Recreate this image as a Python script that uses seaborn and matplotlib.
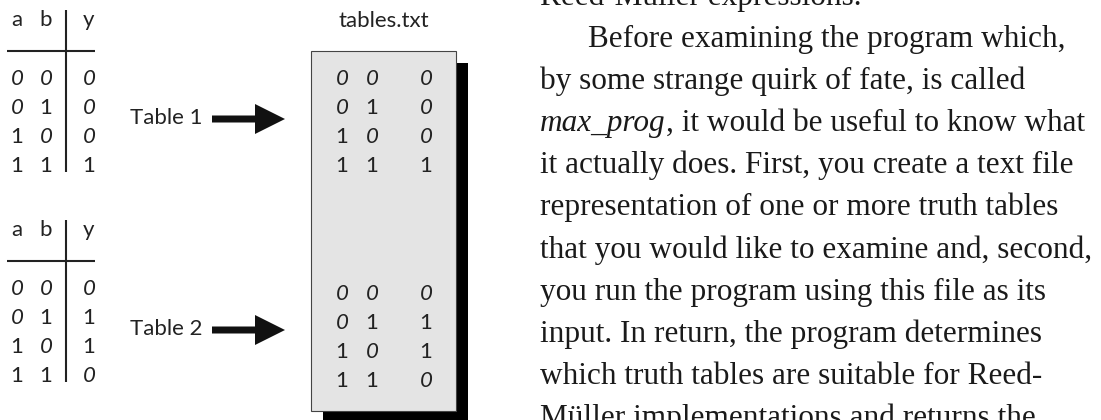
import numpy as np
import pandas as pd
import seaborn as sns
import matplotlib.pyplot as plt
from matplotlib.patches import Rectangle, FancyArrow

sns.set_theme(style="white")
plt.rcParams['font.family'] = ['Liberation Serif', 'DejaVu Serif']

# truth table data
col_a = [0, 0, 1, 1]
col_b = [0, 1, 0, 1]
table1_y = [0, 0, 0, 1]
table2_y = [0, 1, 1, 0]
headers = ["a", "b", "y"]
table_names = ["Table 1", "Table 2"]
file_name = "tables.txt"

body_lines = [
    "Reed-Müller expressions.",
    "Before examining the program which,",
    "by some strange quirk of fate, is called",
    ", it would be useful to know what",
    "it actually does. First, you create a text file",
    "representation of one or more truth tables",
    "that you would like to examine and, second,",
    "you run the program using this file as its",
    "input. In return, the program determines",
    "which truth tables are suitable for Reed-",
    "Müller implementations and returns the",
]
italic_word = "max_prog"   # goes in front of line 3

tables = [pd.DataFrame({"a": col_a, "b": col_b, "y": ys}) for ys in (table1_y, table2_y)]

HAND = ['Lato', 'DejaVu Sans']
INK = '#222222'
W, H = 1101, 420

fig = plt.figure(figsize=(W / 100, H / 100), dpi=100)
ax = fig.add_axes([0, 0, 1, 1])
ax.set_xlim(0, W)
ax.set_ylim(H, 0)
ax.axis('off')


def hand(x, y, s, italic=False, ha='center', size=16, z=3):
    # y is the visual middle of a digit / letter
    ax.text(x, y + 7, s, family=HAND, fontsize=size, fontweight='normal',
            style='italic' if italic else 'normal', ha=ha, va='baseline',
            color=INK, zorder=z)


# left truth tables
row_gap = 29
left_cols = [17, 46, 89]
for k, df in enumerate(tables):
    top = 210 * k
    for x, h in zip(left_cols, headers):
        hand(x, top + 19, h)
    ax.plot([7, 95], [top + 51, top + 51], color=INK, lw=1.5, solid_capstyle='butt')
    ax.plot([66, 66], [top + 10, top + 172], color=INK, lw=1.5, solid_capstyle='butt')
    for i, row in df.iterrows():
        for x, v in zip(left_cols, row[["a", "b", "y"]]):
            hand(x, top + 78 + i * row_gap, str(v), italic=(v == 0))

    # label and arrow
    ay = 119 + 211 * k
    hand(130, ay - 2, table_names[k], ha='left')
    ax.add_patch(FancyArrow(212, ay, 73, 0, width=7, head_width=30, head_length=30,
                            length_includes_head=True, color='#111', lw=0))

# the text file box with drop shadow
ax.add_patch(Rectangle((323, 63), 145, 360, facecolor='black', edgecolor='none', zorder=1))
ax.add_patch(Rectangle((311, 51), 145, 360, facecolor='#e4e4e4', edgecolor='#444',
                       lw=0.8, zorder=2))
hand(384, 20, file_name)

box_cols = [342, 372, 426]
for k, df in enumerate(tables):
    top = 78 + 215 * k
    for i, row in df.iterrows():
        for x, v in zip(box_cols, row[["a", "b", "y"]]):
            hand(x, top + i * row_gap, str(v), italic=(v == 0))

# body text, sized so the widest line spans the measured width
renderer = fig.canvas.get_renderer()
probe = ax.text(0, 0, body_lines[6], fontsize=20)
pw = probe.get_window_extent(renderer).width
probe.remove()
fs = 20 * 552 / pw

x0, indent = 540, 588
base0, lead = 5, 42.1
for i, line in enumerate(body_lines):
    y = base0 + i * lead
    x = indent if i == 1 else x0
    if i == 3:
        t = ax.text(x, y, italic_word, fontsize=fs, style='italic', va='baseline',
                    ha='left', color='#1a1a1a')
        x += t.get_window_extent(renderer).width
    ax.text(x, y, line, fontsize=fs, va='baseline', ha='left', color='#1a1a1a')

fig.savefig('out.png', dpi=100)
